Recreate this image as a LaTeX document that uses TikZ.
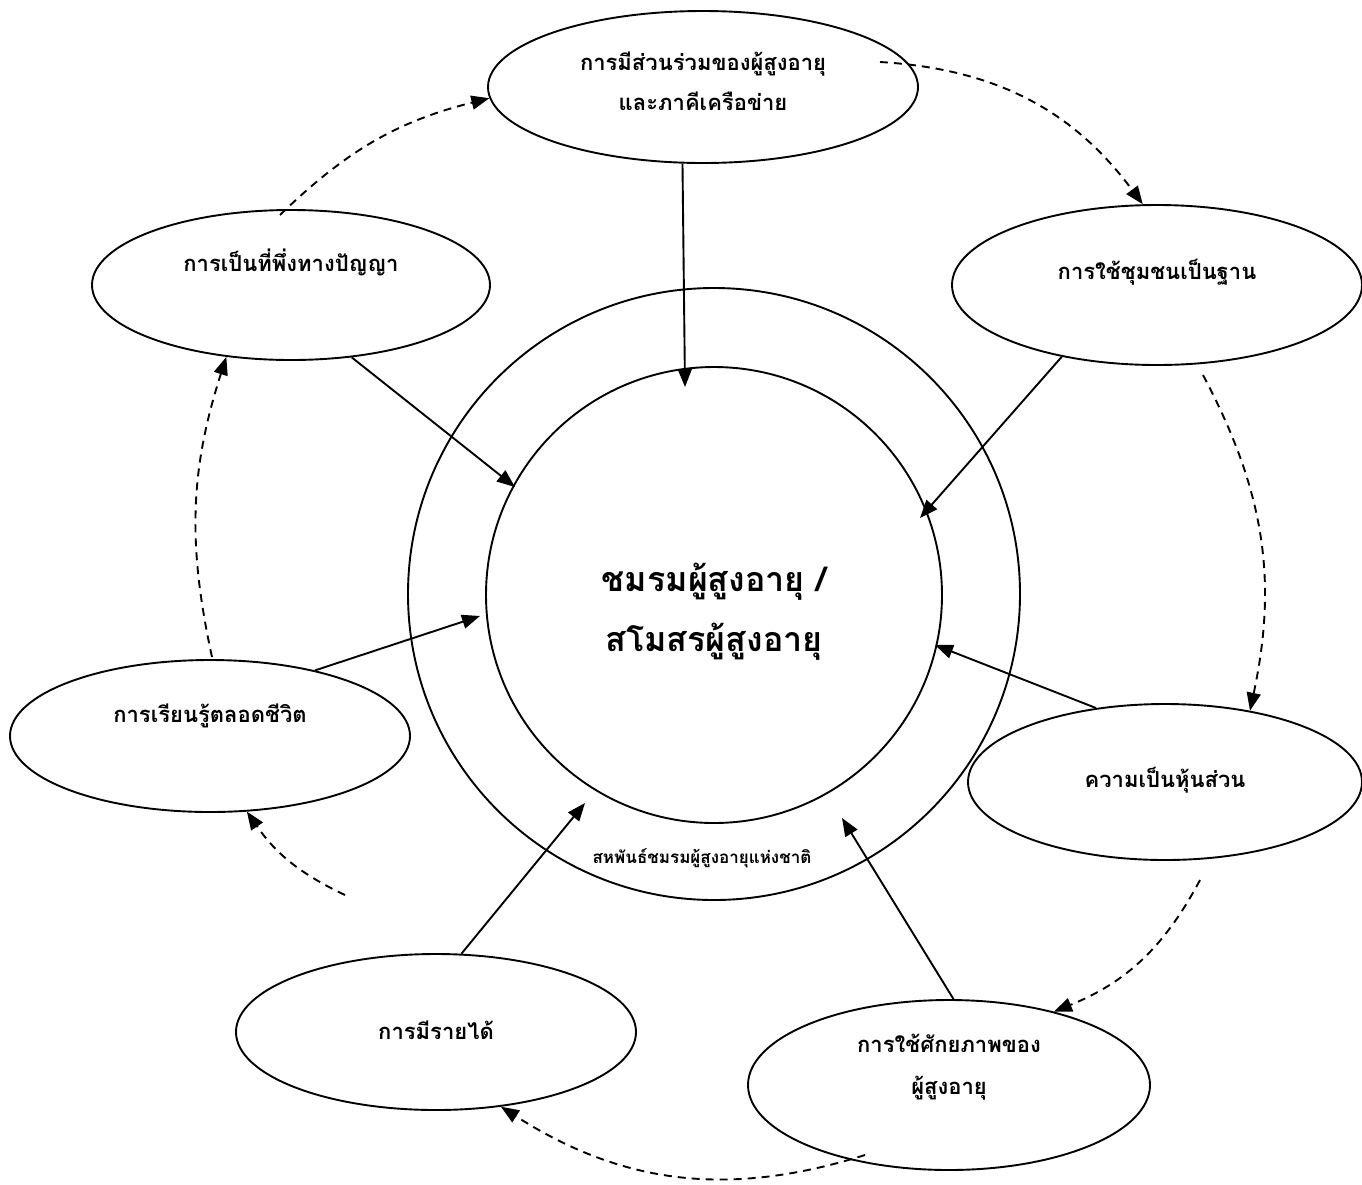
\documentclass[tikz,border=0pt]{standalone}
\usepackage{fontspec}
\newfontfamily\thai[Script=Thai]{Loma}
\usetikzlibrary{shapes.geometric,arrows.meta}
\begin{document}
\begin{tikzpicture}[x=1pt,y=-1pt,
  oval/.style={draw,ellipse,line width=1.9pt,inner sep=0pt},
  ring/.style={draw,circle,line width=1.9pt,inner sep=0pt},
  lbl/.style={font=\thai\bfseries\fontsize{22}{26}\selectfont,align=center,inner sep=0pt},
  biglbl/.style={font=\thai\bfseries\fontsize{34}{40}\selectfont,align=center,inner sep=0pt},
  smalllbl/.style={font=\thai\bfseries\fontsize{17}{20}\selectfont,inner sep=0pt},
  solidarr/.style={line width=1.9pt,-{Triangle[length=18pt,width=14pt]}},
  dasharr/.style={line width=1.9pt,dash pattern=on 8pt off 6pt,-{Triangle[length=18pt,width=14pt]}}]
\useasboundingbox (0,0) rectangle (1362,1184);
\fill[white] (0,0) rectangle (1362,1184);

% circles
\node[ring,minimum size=612pt] (outer) at (714,594) {};
\node[ring,minimum size=456pt] (inner) at (714,595) {};

% ellipses
\node[oval,minimum width=430pt,minimum height=152pt] (top) at (703,87) {};
\node[oval,minimum width=398pt,minimum height=150pt] (tl) at (291,285) {};
\node[oval,minimum width=410pt,minimum height=160pt] (tr) at (1157,285) {};
\node[oval,minimum width=400pt,minimum height=152pt] (lf) at (210,736) {};
\node[oval,minimum width=394pt,minimum height=156pt] (rt) at (1165,782) {};
\node[oval,minimum width=400pt,minimum height=156pt] (bl) at (436,1032) {};
\node[oval,minimum width=402pt,minimum height=170pt] (br) at (949,1085) {};

% texts
\node[lbl] (ttop1) at (703,64) {การมีส่วนร่วมของผู้สูงอายุ};
\node[lbl] (ttop2) at (703,101) {และภาคีเครือข่าย};
\node[lbl] (ttl) at (291,262) {การเป็นที่พึ่งทางปัญญา};
\node[lbl] (ttr) at (1157,272) {การใช้ชุมชนเป็นฐาน};
\node[lbl] (tlf) at (210,716) {การเรียนรู้ตลอดชีวิต};
\node[lbl] (trt) at (1165,780) {ความเป็นหุ้นส่วน};
\node[lbl] (tbl) at (436,1030) {การมีรายได้};
\node[lbl] (tbr1) at (949,1043) {การใช้ศักยภาพของ};
\node[lbl] (tbr2) at (949,1088) {ผู้สูงอายุ};
\node[biglbl] (c1) at (714,582) {ชมรมผู้สูงอายุ /};
\node[biglbl] (c2) at (714,642) {สโมสรผู้สูงอายุ};
\node[smalllbl] (fed) at (702,858) {สหพันธ์ชมรมผู้สูงอายุแห่งชาติ};

% solid arrow ends
\coordinate (e1) at (685,387);
\coordinate (e2) at (515,487);
\coordinate (e3) at (920,518);
\coordinate (e4) at (480,616);
\coordinate (e5) at (935,645);
\coordinate (e6) at (585,803);
\coordinate (e7) at (842,818);

\draw[solidarr] (top.-105) -- (e1);
\draw[solidarr] (tl.-50) -- (e2);
\draw[solidarr] (tr.-143) -- (e3);
\draw[solidarr] (lf.32) -- (e4);
\draw[solidarr] (rt.133) -- (e5);
\draw[solidarr] (bl.72) -- (e6);
\draw[solidarr] (br.87) -- (e7);

% dashed arrow starts
\coordinate (s1) at (280,215);
\coordinate (s2) at (880,62);
\coordinate (s3) at (1203,375);
\coordinate (s4) at (1200,880);
\coordinate (s5) at (865,1155);
\coordinate (s6) at (345,895);
\coordinate (s7) at (212,657);

\draw[dasharr] (s1) to[bend left=15] (top.183);
\draw[dasharr] (s2) to[bend left=25] (tr.100);
\draw[dasharr] (s3) to[bend left=20] (rt.40);
\draw[dasharr] (s4) to[bend left=20] (br.35);
\draw[dasharr] (s5) to[bend left=25] (bl.-49);
\draw[dasharr] (s6) to[bend left=15] (lf.-64);
\draw[dasharr] (s7) to[bend left=15] (tl.-132);
\end{tikzpicture}
\end{document}
